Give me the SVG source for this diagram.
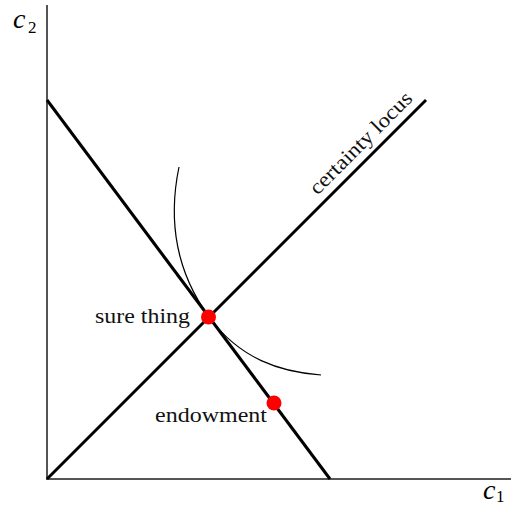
<svg xmlns="http://www.w3.org/2000/svg" width="511" height="506" viewBox="0 0 511 506">
<style>
.axis{stroke:#555;stroke-width:2;fill:none}
.line{stroke:#000;stroke-width:3;fill:none}
.curve{stroke:#000;stroke-width:1.2;fill:none}
.dot{fill:#ff0000}
.lbl{font-family:"Liberation Serif","DejaVu Serif",serif;font-size:21px;fill:#111}
.var{font-family:"Liberation Serif","DejaVu Serif",serif;font-size:28px;font-style:italic;fill:#000}
.sub{font-family:"Liberation Serif","DejaVu Serif",serif;font-size:17px;fill:#000}
</style>
<rect width="511" height="506" fill="#fff"/>
<g id="axes">
<line class="axis" x1="47" y1="5" x2="47" y2="479"/>
<line class="axis" x1="46" y1="479" x2="511" y2="479"/>
</g>
<g id="label-c2"><text x="13" y="28" class="var">c</text><text x="28" y="33" class="sub">2</text></g>
<g id="label-c1"><text x="483" y="499" class="var">c</text><text x="496" y="502" class="sub">1</text></g>
<g id="connectors">
<line id="budget" class="line" x1="47" y1="100" x2="330" y2="479"/>
<line id="certainty" class="line" x1="47" y1="479" x2="426" y2="100"/>
<path id="indifference" class="curve" d="M179,167 C168,220 175,270 209,317 C240,359 280,372 321,375"/>
</g>
<g id="certainty-label"><text class="lbl" text-anchor="middle" transform="translate(372,154) rotate(-45)" x="0" y="-9" textLength="136" lengthAdjust="spacingAndGlyphs">certainty locus</text></g>
<g id="sure-thing"><circle class="dot" cx="208.5" cy="317" r="7.5"/><text class="lbl" x="95" y="323" textLength="95" lengthAdjust="spacingAndGlyphs">sure thing</text></g>
<g id="endowment"><circle class="dot" cx="274" cy="403" r="7.5"/><text class="lbl" x="155" y="422" textLength="112" lengthAdjust="spacingAndGlyphs">endowment</text></g>
</svg>
